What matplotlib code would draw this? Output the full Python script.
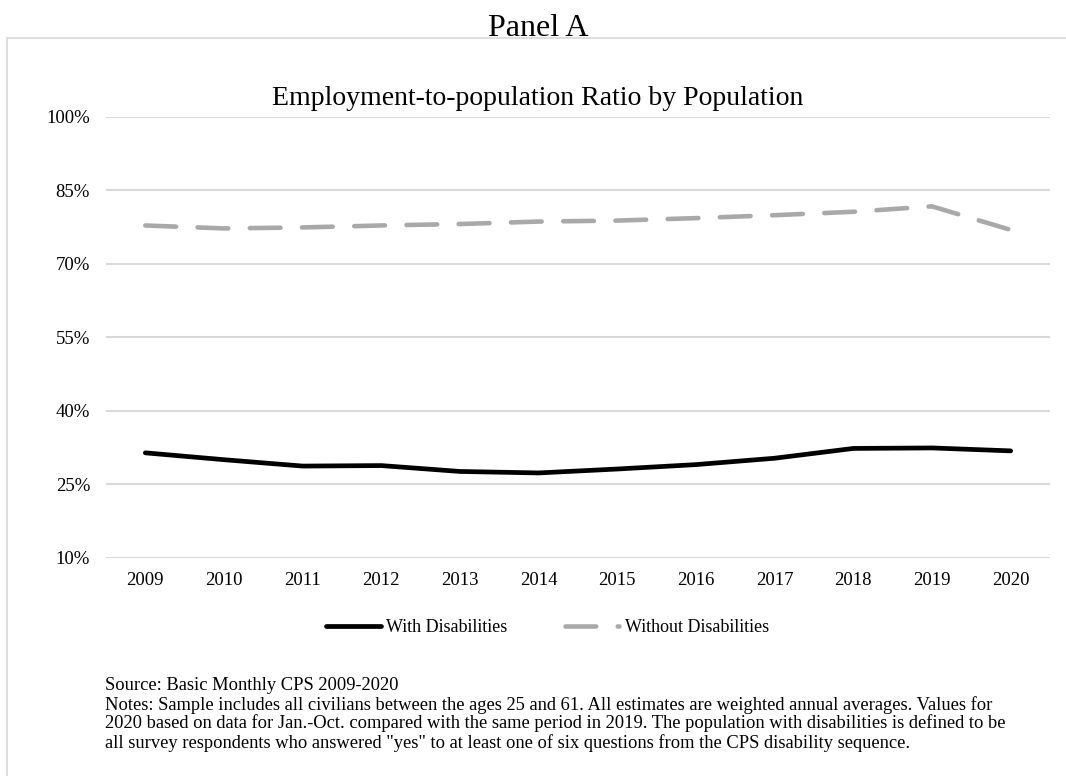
"""
Panel A: ratio empleo/población, con y sin discapacidad (CPS 2009-2020).
"""

import matplotlib
matplotlib.use("Agg")
import matplotlib.pyplot as plt
from matplotlib.patches import Rectangle
from matplotlib.ticker import FuncFormatter

# datos
anios = ['2009', '2010', '2011', '2012', '2013', '2014',
         '2015', '2016', '2017', '2018', '2019', '2020']
con_discapacidad = [31.4, 30.0, 28.7, 28.8, 27.6, 27.3,
                    28.1, 29.0, 30.3, 32.3, 32.4, 31.8]
sin_discapacidad = [77.8, 77.2, 77.4, 77.8, 78.1, 78.6,
                    78.8, 79.3, 79.9, 80.6, 81.7, 76.9]
ticks_y = [10, 25, 40, 55, 70, 85, 100]

lineas_notas = [
    "Source: Basic Monthly CPS 2009-2020",
    'Notes: Sample includes all civilians between the ages 25 and 61. '
    'All estimates are weighted annual averages. Values for',
    '2020 based on data for Jan.-Oct. compared with the same period '
    'in 2019. The population with disabilities is defined to be',
    'all survey respondents who answered "yes" to at least one of six '
    'questions from the CPS disability sequence.',
]

plt.rcParams['font.family'] = ['Liberation Serif', 'DejaVu Serif']

W, H = 1066, 776
fig = plt.figure(figsize=(W / 100, H / 100), dpi=100)
ax = fig.add_axes([106 / W, 1 - 557.7 / H, 944 / W, 441 / H])

# marco gris del panel (solo se ven el lado izquierdo y el superior)
marco = Rectangle((7 / W, -0.05), 1.1, 1.05 - 38 / H,
                  transform=fig.transFigure, fill=False,
                  edgecolor='#d9d9d9', linewidth=1.2, zorder=0)
fig.patches.append(marco)

x = range(len(anios))
ax.plot(x, con_discapacidad, color='black', linewidth=3.4,
        solid_capstyle='round', solid_joinstyle='round',
        label='With Disabilities')
ax.plot(x, sin_discapacidad, color='#aba8a8', linewidth=3.3,
        dashes=(6.7, 4.7), dash_capstyle='round', dash_joinstyle='round',
        label='Without Disabilities')

ax.set_xlim(-0.5, len(anios) - 0.5)
ax.set_ylim(10, 100)
ax.set_yticks(ticks_y)
ax.yaxis.set_major_formatter(FuncFormatter(lambda v, p: f'{v:.0f}%'))
ax.set_xticks(list(x))
ax.set_xticklabels(anios)
ax.tick_params(axis='both', length=0, labelsize=13.5)
ax.tick_params(axis='y', pad=11.5)
ax.tick_params(axis='x', pad=10)
ax.grid(axis='y', color='#d9d9d9', linewidth=1.5)
ax.set_axisbelow(True)
for lado in ['top', 'right', 'left', 'bottom']:
    ax.spines[lado].set_visible(False)

# títulos
fig.text(538 / W, 1 - 36.5 / H, 'Panel A', ha='center', va='baseline',
         fontsize=23)
fig.text(538 / W, 1 - 105 / H, 'Employment-to-population Ratio by Population',
         ha='center', va='baseline', fontsize=20)

# leyenda
fig.legend(loc='center', bbox_to_anchor=(547.5 / W, 1 - 628 / H), ncol=2,
           frameon=False, fontsize=13, handlelength=3.0,
           handletextpad=0.3, columnspacing=3.2)

# fuente y notas
for i, linea in enumerate(lineas_notas):
    fig.text(105 / W, 1 - (690.5 + 19 * i) / H, linea, ha='left',
             va='baseline', fontsize=13.3)

plt.savefig('out.png', dpi=100)
